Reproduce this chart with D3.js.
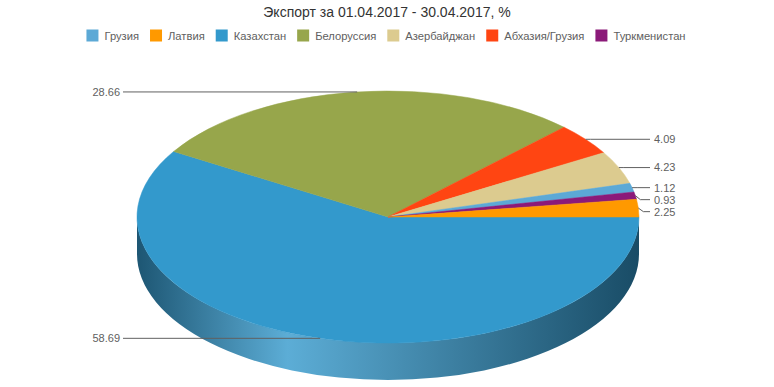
<!DOCTYPE html>
<html>
<head>
<meta charset="utf-8">
<script src="https://cdn.jsdelivr.net/npm/d3@7"></script>
<style>
  html, body { margin: 0; padding: 0; background: #ffffff; }
  svg { display: block; font-family: "Liberation Sans", Arial, Helvetica, sans-serif; }
</style>
</head>
<body>
<svg id="chart" width="774" height="387"></svg>
<script>
// ---- data ----
const titleText = "Экспорт за 01.04.2017 - 30.04.2017, %";
const categories = ["Грузия", "Латвия", "Казахстан", "Белоруссия", "Азербайджан", "Абхазия/Грузия", "Туркменистан"];
const values = [1.12, 2.25, 58.69, 28.66, 4.23, 4.09, 0.93];
const colors = ["#5CA9D6", "#FF9900", "#3399CC", "#97A64B", "#DCCB8F", "#FF4512", "#8B1A79"];
// order in which slices go round the pie (clockwise from 3 o'clock)
const drawOrder = ["Казахстан", "Белоруссия", "Абхазия/Грузия", "Азербайджан", "Грузия", "Туркменистан", "Латвия"];

// ---- layout ----
const W = 774, H = 387;
const cx = 388, cy = 217, rx = 251, ry = 126, depth = 37;

const svg = d3.select("#chart");
const defs = svg.append("defs");

svg.append("rect").attr("width", W).attr("height", H).attr("fill", "#ffffff");

// title
svg.append("text")
  .attr("x", W / 2).attr("y", 17)
  .attr("text-anchor", "middle")
  .attr("font-size", 14)
  .attr("fill", "#333333")
  .text(titleText);

// legend
const legend = svg.append("g");
const legendFont = 11.2;
let lx = 0;
categories.forEach((c, i) => {
  const g = legend.append("g");
  g.append("rect").attr("x", lx).attr("y", 29.5).attr("width", 12).attr("height", 12)
    .attr("fill", colors[i]);
  const t = g.append("text").attr("x", lx + 18).attr("y", 39.5)
    .attr("font-size", legendFont).attr("fill", "#606060").text(c);
  const w = t.node().getComputedTextLength();
  lx += 18 + w + 11;
});
const legendWidth = lx - 11;
legend.attr("transform", `translate(${(W - legendWidth) / 2 - 1},0)`);

// pie data
const data = drawOrder.map(n => {
  const i = categories.indexOf(n);
  return { name: n, value: values[i], color: colors[i] };
});
const pie = d3.pie().sort(null).value(d => d.value)
  .startAngle(Math.PI / 2).endAngle(Math.PI / 2 + 2 * Math.PI);
const arcs = pie(data);

const pt = (theta, dy = 0) => [cx + rx * Math.cos(theta), cy + ry * Math.sin(theta) + dy];

// sides (front half, theta in [0, PI])
const sideG = svg.append("g");
arcs.forEach((a, i) => {
  const t0 = a.startAngle - Math.PI / 2, t1 = a.endAngle - Math.PI / 2;
  const s = Math.max(t0, 0), e = Math.min(t1, Math.PI);
  if (e <= s) return;
  const base = d3.color(a.data.color);
  const gid = "side" + i;
  const grad = defs.append("linearGradient").attr("id", gid)
    .attr("gradientUnits", "userSpaceOnUse")
    .attr("x1", cx - rx).attr("x2", cx + rx).attr("y1", 0).attr("y2", 0);
  grad.append("stop").attr("offset", 0).attr("stop-color", base.darker(1.6).formatHex());
  grad.append("stop").attr("offset", 0.3).attr("stop-color", d3.interpolateRgb(base, "#ffffff")(0.2));
  grad.append("stop").attr("offset", 1).attr("stop-color", base.darker(1.95).formatHex());
  const p0 = pt(s), p1 = pt(e), q1 = pt(e, depth), q0 = pt(s, depth);
  const large = (e - s) > Math.PI ? 1 : 0;
  const d = `M${p0[0]},${p0[1]} A${rx},${ry} 0 ${large} 1 ${p1[0]},${p1[1]} L${q1[0]},${q1[1]} A${rx},${ry} 0 ${large} 0 ${q0[0]},${q0[1]} Z`;
  sideG.append("path").attr("d", d).attr("fill", `url(#${gid})`);
});

// top face
const arcGen = d3.arc().innerRadius(0).outerRadius(rx);
const topG = svg.append("g").attr("transform", `translate(${cx},${cy}) scale(1,${ry / rx})`);
topG.selectAll("path").data(arcs).join("path")
  .attr("d", arcGen)
  .attr("fill", d => d.data.color)
  .attr("stroke", d => d.data.color)
  .attr("stroke-width", 0.5)
  .attr("vector-effect", "non-scaling-stroke");

// labels
const labels = arcs.map(a => {
  const mid = (a.startAngle + a.endAngle) / 2 - Math.PI / 2;
  const anchor = pt(mid);
  return { a, anchor, left: Math.cos(mid) < 0, y: anchor[1], text: d3.format(".2f")(a.data.value) };
});
[true, false].forEach(side => {
  const ls = labels.filter(l => l.left === side).sort((p, q) => p.y - q.y);
  for (let i = 1; i < ls.length; i++) {
    if (ls[i].y < ls[i - 1].y + 12) ls[i].y = ls[i - 1].y + 12;
  }
});
const labG = svg.append("g");
labels.forEach(l => {
  const [ax, ay] = l.anchor;
  let d, tx, anchorTxt;
  if (l.left) {
    tx = cx - rx - 17;
    d = `M${ax},${ay} L${ax},${l.y} L${tx + 3},${l.y}`;
    anchorTxt = "end";
  } else {
    tx = cx + rx + 15;
    d = `M${ax},${ay} L${ax + 5},${l.y} L${tx - 4},${l.y}`;
    anchorTxt = "start";
  }
  labG.append("path").attr("d", d).attr("fill", "none").attr("stroke", "#606060").attr("stroke-width", 1);
  labG.append("text").attr("x", tx).attr("y", l.y).attr("dy", "0.35em")
    .attr("text-anchor", anchorTxt).attr("font-size", 11).attr("fill", "#606060").text(l.text);
});
</script>
</body>
</html>
